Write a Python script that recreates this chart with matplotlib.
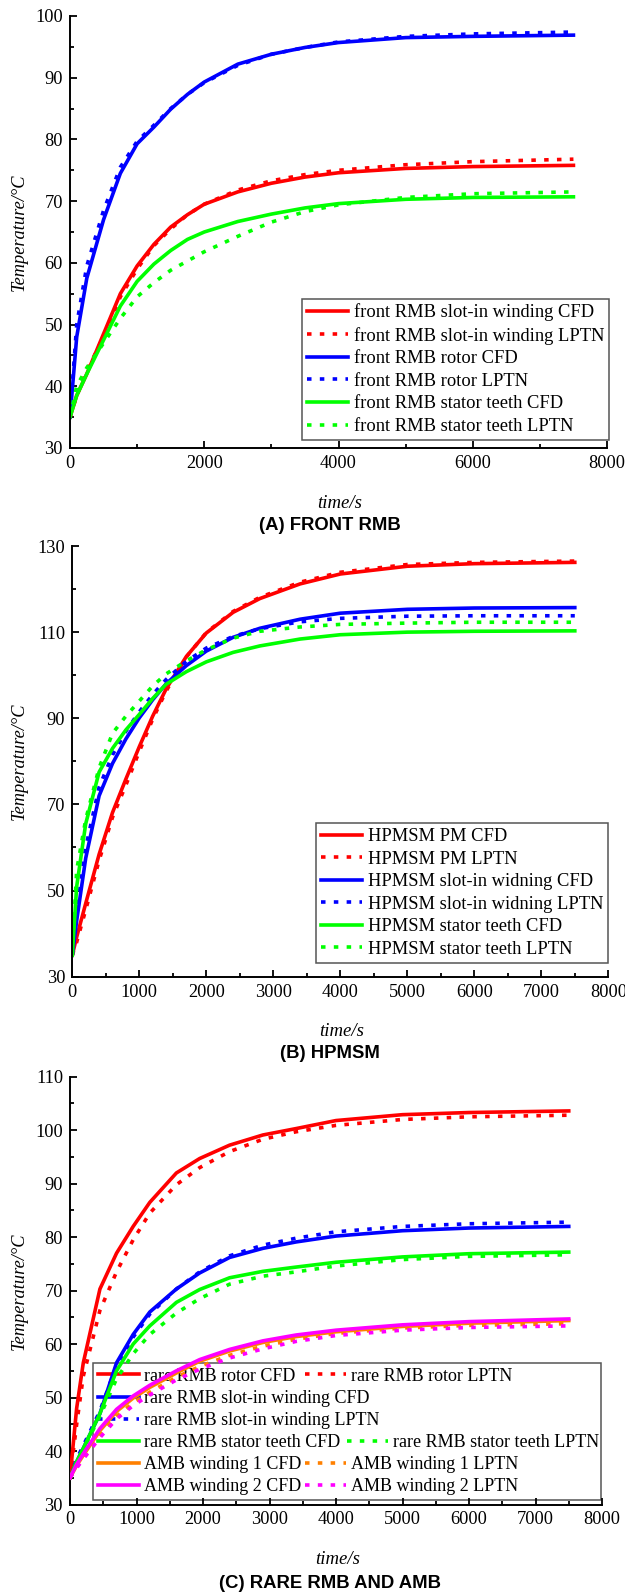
import numpy as np
import matplotlib
matplotlib.use("Agg")
import matplotlib.pyplot as plt
from matplotlib.lines import Line2D
from matplotlib.ticker import MultipleLocator

plt.rcParams['font.family'] = ['Liberation Serif', 'DejaVu Serif']

# ---- panel A: front RMB ----
t_a = [0, 100, 250, 500, 750, 1000, 1250, 1500, 1750, 2000, 2500, 3000, 3500, 4000, 5000, 6000, 7500]
a_winding_cfd = [35, 38.5, 42, 48.5, 55, 59.5, 63, 65.8, 67.8, 69.5, 71.5, 72.9, 73.9, 74.6, 75.3, 75.6, 75.8]
a_winding_lptn = [35, 38.5, 42.5, 48, 54.5, 59, 62.8, 65.5, 67.8, 69.5, 71.8, 73.3, 74.3, 75.0, 75.9, 76.4, 76.8]
a_rotor_cfd = [35, 48, 57.5, 67, 74.5, 79.3, 82, 84.9, 87.3, 89.3, 92.2, 93.8, 94.9, 95.7, 96.5, 96.7, 96.9]
a_rotor_lptn = [35, 50, 59.5, 68.5, 75.5, 79.7, 82.3, 85.0, 87.3, 89.2, 92.0, 93.8, 94.9, 95.8, 96.7, 97.1, 97.4]
a_teeth_cfd = [35, 38.5, 42, 47.5, 53, 57, 59.8, 62, 63.8, 65, 66.7, 67.9, 68.9, 69.6, 70.3, 70.6, 70.7]
a_teeth_lptn = [35, 40, 43, 47, 51, 54.5, 56.8, 58.8, 60.3, 61.8, 64.3, 66.6, 68.3, 69.4, 70.6, 71.2, 71.5]

# ---- panel B: HPMSM ----
t_b = [0, 65, 200, 400, 600, 800, 1000, 1200, 1400, 1700, 2000, 2400, 2800, 3400, 4000, 5000, 6000, 7500]
b_pm_cfd = [35, 39.2, 47, 58.4, 68.1, 75.9, 83.4, 90.5, 96.8, 104.3, 109.8, 114.6, 117.8, 121.2, 123.5, 125.3, 125.9, 126.2]
b_pm_lptn = [35, 38, 45.5, 57, 67, 74.5, 82.3, 89.8, 96.3, 104.2, 109.9, 114.8, 118.1, 121.6, 123.9, 125.7, 126.2, 126.5]
b_winding_cfd = [35, 43, 57.5, 72, 79.5, 85.2, 90.1, 94.3, 98, 102.2, 105.6, 108.8, 110.9, 113.0, 114.4, 115.3, 115.6, 115.7]
b_winding_lptn = [35, 45, 60, 74, 81.5, 87, 91.5, 95.5, 99, 103.2, 106.3, 109.0, 110.8, 112.4, 113.2, 113.7, 113.8, 113.8]
b_teeth_cfd = [35, 50.9, 65.5, 77.5, 83, 87.3, 90.9, 94.6, 97.9, 100.8, 103.1, 105.3, 106.8, 108.4, 109.4, 110, 110.2, 110.3]
b_teeth_lptn = [35, 54.7, 66.5, 78.5, 86.5, 90.5, 94, 97.5, 100.3, 103.3, 105.9, 108.6, 110.2, 111.2, 111.8, 112.1, 112.3, 112.3]

# ---- panel C: rare RMB and AMB ----
t_c = [0, 100, 200, 450, 700, 950, 1200, 1600, 1950, 2400, 2900, 3400, 4000, 5000, 6000, 7500]
c_rotor_cfd = [35, 48, 56.5, 70.3, 77, 82, 86.5, 92, 94.7, 97.2, 99.1, 100.3, 101.8, 102.9, 103.3, 103.6]
c_rotor_lptn = [35, 45, 54, 66.3, 73.5, 79.5, 84.5, 89.8, 93, 96, 98.3, 99.7, 100.9, 102.0, 102.5, 102.8]
c_winding_cfd = [35, 38, 40.5, 47, 56.5, 61.8, 66, 70.3, 73.3, 76.2, 77.9, 79.1, 80.2, 81.2, 81.7, 82.0]
c_winding_lptn = [35, 38.5, 41, 47.5, 56, 61.3, 65.6, 70.3, 73.5, 76.5, 78.5, 79.8, 81, 82, 82.5, 82.8]
c_teeth_cfd = [35, 38, 40.5, 47, 55, 60, 63.4, 67.8, 70.2, 72.4, 73.6, 74.4, 75.3, 76.3, 76.9, 77.2]
c_teeth_lptn = [35, 38, 40.3, 46.5, 53.5, 58.2, 61.8, 65.8, 68.5, 71.2, 72.7, 73.5, 74.6, 75.8, 76.4, 76.7]
c_amb1_cfd = [35, 37.3, 39.2, 43.8, 47.4, 49.9, 51.9, 54.6, 56.8, 58.7, 60.3, 61.4, 62.3, 63.3, 63.9, 64.4]
c_amb1_lptn = [35, 37, 38.8, 43, 46.5, 49, 51, 53.8, 55.8, 57.9, 59.6, 60.9, 62.0, 63.0, 63.5, 63.8]
c_amb2_cfd = [35, 37.5, 39.5, 44.2, 47.8, 50.3, 52.3, 55.0, 57.1, 59.0, 60.6, 61.7, 62.6, 63.6, 64.2, 64.7]
c_amb2_lptn = [35, 36.8, 38.5, 42.5, 46, 48.5, 50.5, 53.3, 55.3, 57.4, 59.1, 60.5, 61.6, 62.6, 63.1, 63.4]

RED, BLUE, GREEN, ORANGE, MAGENTA = '#ff0000', '#0000ff', '#00ff00', '#ff8000', '#ff00ff'
LW = 2.6
DOT = (0, (1.25, 2.3))
W, H = 625, 1592
FS = 13.2

fig = plt.figure(figsize=(W / 100, H / 100), dpi=100)


def make_axes(left, right, top, bottom):
    # pixel box -> figure fraction
    return fig.add_axes([left / W, 1 - bottom / H, (right - left) / W, (bottom - top) / H])


def style(ax, ylim, xmaj, xmin, ymaj, ymin, yoff=0):
    ax.set_xlim(0, 8000)
    ax.set_ylim(*ylim)
    ax.xaxis.set_major_locator(MultipleLocator(xmaj))
    ax.xaxis.set_minor_locator(MultipleLocator(xmin))
    ax.yaxis.set_major_locator(MultipleLocator(ymaj, offset=yoff))
    ax.yaxis.set_minor_locator(MultipleLocator(ymin))
    for s in ('top', 'right'):
        ax.spines[s].set_visible(False)
    for s in ('left', 'bottom'):
        ax.spines[s].set_linewidth(1.4)
    ax.tick_params(which='major', direction='in', length=4.8, width=1.3, labelsize=FS, pad=5)
    ax.tick_params(which='minor', direction='in', length=2.8, width=1.3)


def labels(x_mid, ylab_y, time_y, title_y, title):
    fig.text(19 / W, 1 - ylab_y / H, 'Temperature/°C', rotation=90, style='italic',
             fontsize=13.2, ha='center', va='center')
    fig.text(x_mid / W, 1 - time_y / H, 'time/s', style='italic', fontsize=13.5, ha='center', va='center')
    fig.text(330 / W, 1 - title_y / H, title, fontsize=13.3, fontweight='bold',
             family='Liberation Sans', ha='center', va='center')


leg_kw = dict(fontsize=13.3, handlelength=2.22, handletextpad=0.3, labelspacing=0.3,
              borderpad=0.27, borderaxespad=0, fancybox=False, edgecolor='#555555', framealpha=1)

# panel A
ax = make_axes(70, 607, 16, 448)
ax.plot(t_a, a_winding_cfd, color=RED, lw=LW, label='front RMB slot-in winding CFD')
ax.plot(t_a, a_winding_lptn, color=RED, lw=LW, ls=DOT, label='front RMB slot-in winding LPTN')
ax.plot(t_a, a_rotor_cfd, color=BLUE, lw=LW, label='front RMB rotor CFD')
ax.plot(t_a, a_rotor_lptn, color=BLUE, lw=LW, ls=DOT, label='front RMB rotor LPTN')
ax.plot(t_a, a_teeth_cfd, color=GREEN, lw=LW, label='front RMB stator teeth CFD')
ax.plot(t_a, a_teeth_lptn, color=GREEN, lw=LW, ls=DOT, label='front RMB stator teeth LPTN')
style(ax, (30, 100), 2000, 1000, 10, 5)
leg = ax.legend(loc='lower left', bbox_to_anchor=((302 - 70) / 537, (448 - 440) / 432), **leg_kw)
leg.get_frame().set_linewidth(1.1)
labels(340, 232, 503, 526, '(A) FRONT RMB')

# panel B
ax = make_axes(72.3, 608.3, 546, 976.7)
ax.plot(t_b, b_pm_cfd, color=RED, lw=LW, label='HPMSM PM CFD')
ax.plot(t_b, b_pm_lptn, color=RED, lw=LW, ls=DOT, label='HPMSM PM LPTN')
ax.plot(t_b, b_winding_cfd, color=BLUE, lw=LW, label='HPMSM slot-in widning CFD')
ax.plot(t_b, b_winding_lptn, color=BLUE, lw=LW, ls=DOT, label='HPMSM slot-in widning LPTN')
ax.plot(t_b, b_teeth_cfd, color=GREEN, lw=LW, label='HPMSM stator teeth CFD')
ax.plot(t_b, b_teeth_lptn, color=GREEN, lw=LW, ls=DOT, label='HPMSM stator teeth LPTN')
style(ax, (30, 130), 1000, 500, 20, 10, yoff=10)
leg = ax.legend(loc='lower left', bbox_to_anchor=((316 - 72.3) / 536, (976.7 - 962.7) / 430.7), **leg_kw)
leg.get_frame().set_linewidth(1.1)
labels(342, 761, 1031, 1054, '(B) HPMSM')

# panel C
ax = make_axes(70, 602, 1076.7, 1504.5)
h_rc, = ax.plot(t_c, c_rotor_cfd, color=RED, lw=LW, zorder=3)
h_rl, = ax.plot(t_c, c_rotor_lptn, color=RED, lw=LW, ls=DOT, zorder=3)
h_wc, = ax.plot(t_c, c_winding_cfd, color=BLUE, lw=LW, zorder=3)
h_wl, = ax.plot(t_c, c_winding_lptn, color=BLUE, lw=LW, ls=DOT, zorder=3)
h_tc, = ax.plot(t_c, c_teeth_cfd, color=GREEN, lw=LW, zorder=3)
h_tl, = ax.plot(t_c, c_teeth_lptn, color=GREEN, lw=LW, ls=DOT, zorder=3)
h_1c, = ax.plot(t_c, c_amb1_cfd, color=ORANGE, lw=LW, zorder=3)
h_1l, = ax.plot(t_c, c_amb1_lptn, color=ORANGE, lw=LW, ls=DOT, zorder=3)
h_2c, = ax.plot(t_c, c_amb2_cfd, color=MAGENTA, lw=LW, zorder=3)
h_2l, = ax.plot(t_c, c_amb2_lptn, color=MAGENTA, lw=LW, ls=DOT, zorder=3)
style(ax, (30, 110), 1000, 500, 10, 5)

# Origin-style legend: second entries follow the first text in each row
blank = Line2D([], [], color='none')
ytop = (1504.5 - 1363.3) / 427.8
kw_c = dict(leg_kw)
kw_c.update(facecolor='none', fontsize=13, labelspacing=0.28, borderpad=0.25, handlelength=2.27)
leg1 = ax.legend([h_rc, h_wc, h_wl, h_tc, h_1c, h_2c],
                 ['rare RMB rotor CFD', 'rare RMB slot-in winding CFD', 'rare RMB slot-in winding LPTN',
                  'rare RMB stator teeth CFD', 'AMB winding 1 CFD', 'AMB winding 2 CFD'],
                 loc='upper left', bbox_to_anchor=(23 / 532, ytop, 508 / 532, 0), mode='expand', **kw_c)
leg1.get_frame().set_linewidth(1.1)
leg1.set_zorder(1)
ax.add_artist(leg1)
kw_c['frameon'] = False
leg2 = ax.legend([h_rl, blank, blank, blank, h_1l, h_2l],
                 ['rare RMB rotor LPTN', ' ', ' ', ' ', 'AMB winding 1 LPTN', 'AMB winding 2 LPTN'],
                 loc='upper left', bbox_to_anchor=((300 - 70) / 532, ytop), **kw_c)
leg2.set_zorder(1)
ax.add_artist(leg2)
leg3 = ax.legend([blank, blank, blank, h_tl, blank, blank],
                 [' ', ' ', ' ', 'rare RMB stator teeth LPTN', ' ', ' '],
                 loc='upper left', bbox_to_anchor=((342 - 70) / 532, ytop), **kw_c)
leg3.set_zorder(1)
labels(338, 1291, 1560, 1584, '(C) RARE RMB AND AMB')

fig.savefig('out.png', dpi=100)
